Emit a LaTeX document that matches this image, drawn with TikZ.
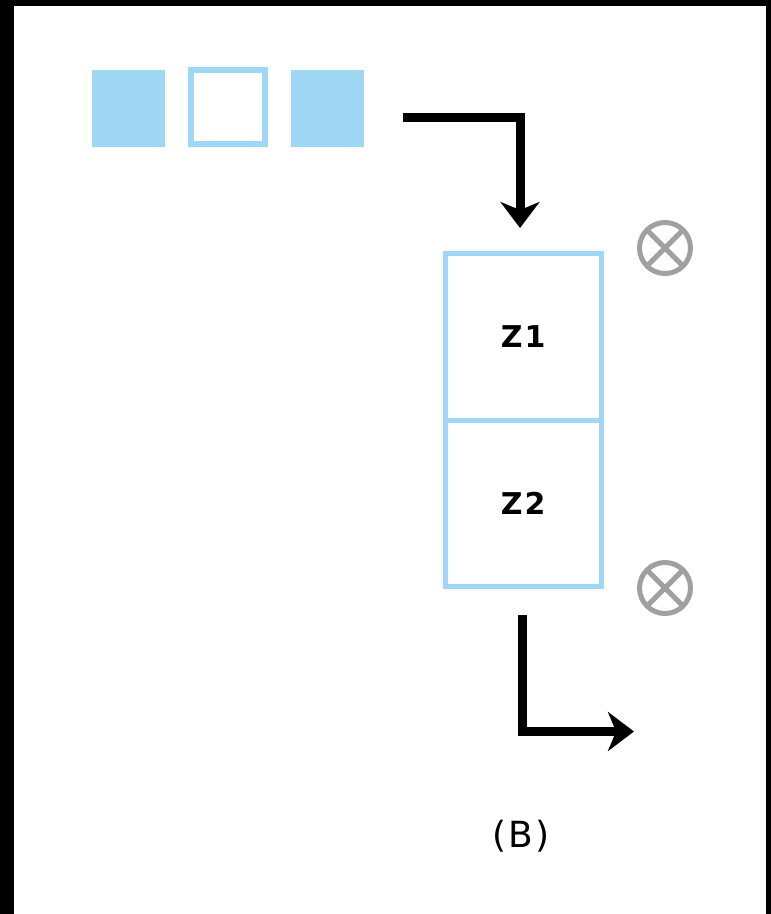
\documentclass[tikz,border=0pt]{standalone}
\usepackage{fontspec}
\setmainfont{DejaVu Sans}
\usetikzlibrary{arrows.meta,calc}
\definecolor{skyb}{RGB}{160,215,245}
\definecolor{markgray}{RGB}{160,160,160}
\begin{document}
\begin{tikzpicture}[x=1pt,y=-1pt,
  filledsq/.style={fill=skyb,draw=none,minimum width=73pt,minimum height=77pt,inner sep=0pt,outer sep=0pt,anchor=north west},
  emptysq/.style={draw=skyb,line width=6pt,fill=white,minimum width=74pt,minimum height=74pt,inner sep=0pt,outer sep=0pt,anchor=north west},
  zbox/.style={draw=skyb,line width=5pt,minimum width=155.5pt,inner sep=0pt,outer sep=0pt,font=\bfseries\fontsize{30}{30}\selectfont},
  flow/.style={line width=9pt,miter limit=10,-{Stealth[length=26pt,width=39pt,inset=8pt]}},
  otimesmark/.style={circle,draw=markgray,line width=5pt,minimum size=51pt,inner sep=0pt,path picture={\draw[markgray,line width=5pt] (path picture bounding box.north west)--(path picture bounding box.south east) (path picture bounding box.north east)--(path picture bounding box.south west);}}
]
\useasboundingbox (0,0) rectangle (771,914);
\fill[black] (0,0) rectangle (771,914);
\fill[white] (14,6) rectangle (766,914);
% squares
\node[filledsq] (s1) at (92,70) {};
\node[emptysq] (s2) at (191,70) {};
\node[filledsq] (s3) at (291,70) {};
% boxes
\node[zbox,minimum height=167pt,anchor=north west] (z1) at (445.5,253) {Z\kern2pt1};
\node[zbox,minimum height=166pt,anchor=north west] (z2) at (445.5,420) {Z\kern2pt2};
% otimes marks
\node[otimesmark] (c1) at (665,248) {};
\node[otimesmark] (c2) at (665,588) {};
% arrows
\coordinate (a1s) at (403,117.5);
\coordinate (a1e) at (520,228);
\draw[flow] (a1s) -| (a1e);
\coordinate (a2s) at (522,615);
\coordinate (a2e) at (634,731.5);
\draw[flow] (a2s) |- (a2e);
% label
\node[font=\fontsize{36}{36}\selectfont] (lab) at (521,836) {(\kern2pt B\kern2pt)};
\end{tikzpicture}
\end{document}
